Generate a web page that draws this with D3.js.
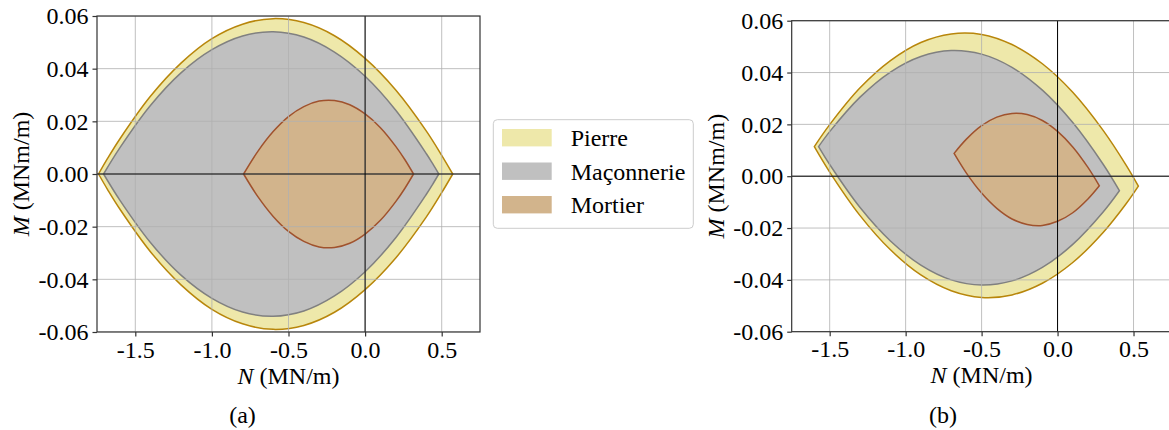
<!DOCTYPE html>
<html>
<head>
<meta charset="utf-8">
<script src="https://cdn.jsdelivr.net/npm/d3@7"></script>
<style>
  html, body { margin: 0; padding: 0; background: #fff; }
  svg { display: block; }
  svg text { font-family: "Liberation Serif", "Times New Roman", Times, serif; fill: #000; }
</style>
</head>
<body>
<svg id="chart" width="1169" height="430"></svg>
<script>
// ---------- tick values / labels ----------
const nTicks = [-1.5, -1.0, -0.5, 0.0, 0.5];
const nTickLabels = ["-1.5", "-1.0", "-0.5", "0.0", "0.5"];
const mTicks = [0.06, 0.04, 0.02, 0.00, -0.02, -0.04, -0.06];
const mTickLabels = ["0.06", "0.04", "0.02", "0.00", "-0.02", "-0.04", "-0.06"];
const nDomain = [-1.75, 0.75];
const mDomain = [-0.06, 0.06];

const seriesNames = ["Pierre", "Maçonnerie", "Mortier"];

// ---------- panel (a) ----------
const aPierreN   = [-1.74, -1.68, -1.6, -1.4, -1.2, -1.0, -0.8, -0.6, -0.4, -0.2, 0.0, 0.2, 0.4, 0.5, 0.572];
const aPierreTop = [0, 0.0060, 0.0134, 0.0296, 0.0422, 0.0514, 0.0569, 0.0590, 0.0575, 0.0525, 0.0439, 0.0319, 0.0163, 0.0071, 0];
const aPierreBot = [0, -0.0060, -0.0134, -0.0296, -0.0422, -0.0514, -0.0569, -0.0590, -0.0575, -0.0525, -0.0439, -0.0319, -0.0163, -0.0071, 0];

const aMaconN   = [-1.707, -1.6, -1.4, -1.2, -1.0, -0.8, -0.6, -0.4, -0.2, 0.0, 0.2, 0.4, 0.44, 0.481];
const aMaconTop = [0, 0.0100, 0.0261, 0.0385, 0.0472, 0.0524, 0.0540, 0.0520, 0.0463, 0.0371, 0.0242, 0.0077, 0.0040, 0];
const aMaconBot = [0, -0.0100, -0.0261, -0.0385, -0.0472, -0.0524, -0.0540, -0.0520, -0.0463, -0.0371, -0.0242, -0.0077, -0.0040, 0];

const aMortN   = [-0.793, -0.7, -0.6, -0.5, -0.4, -0.3, -0.2, -0.1, 0.0, 0.1, 0.2, 0.26, 0.316];
const aMortTop = [0, 0.0086, 0.0161, 0.0218, 0.0256, 0.0277, 0.0279, 0.0263, 0.0228, 0.0176, 0.0105, 0.0054, 0];
const aMortBot = [0, -0.0086, -0.0161, -0.0218, -0.0256, -0.0277, -0.0279, -0.0263, -0.0228, -0.0176, -0.0105, -0.0054, 0];

// ---------- panel (b) ----------
const bPierreN   = [-1.601, -1.5, -1.3, -1.1, -0.9, -0.7, -0.5, -0.3, -0.1, 0.1, 0.3, 0.45, 0.532];
const bPierreTop = [0.0114, 0.0199, 0.0341, 0.0446, 0.0516, 0.0549, 0.0547, 0.0508, 0.0434, 0.0324, 0.0177, 0.0044, -0.0038];
const bPierreBot = [0.0114, 0.0016, -0.0152, -0.0284, -0.0381, -0.0442, -0.0468, -0.0458, -0.0413, -0.0333, -0.0217, -0.0107, -0.0038];

const bMaconN   = [-1.573, -1.5, -1.3, -1.1, -0.9, -0.7, -0.5, -0.3, -0.1, 0.1, 0.3, 0.407];
const bMaconTop = [0.0114, 0.0172, 0.0305, 0.0402, 0.0462, 0.0485, 0.0471, 0.0420, 0.0332, 0.0207, 0.0046, -0.0056];
const bMaconBot = [0.0114, 0.0045, -0.0121, -0.0250, -0.0343, -0.0400, -0.0420, -0.0404, -0.0352, -0.0263, -0.0138, -0.0056];

const bMortN   = [-0.681, -0.6, -0.5, -0.4, -0.3, -0.2, -0.1, 0.0, 0.1, 0.2, 0.275];
const bMortTop = [0.0088, 0.0143, 0.0195, 0.0228, 0.0242, 0.0238, 0.0215, 0.0173, 0.0113, 0.0034, -0.0037];
const bMortBot = [0.0088, 0.0012, -0.0065, -0.0124, -0.0165, -0.0186, -0.0190, -0.0174, -0.0141, -0.0088, -0.0037];

// ---------- styles ----------
const fills   = ["#EEE8AA", "#C0C0C0", "#D2B48C"];
const strokes = ["#B8860B", "#808080", "#A0522D"];
const FONT = 24;
const FAMILY = '"Liberation Serif", "Times New Roman", Times, serif';

const svg = d3.select("#chart");

function zip(N, top, bot) { return N.map((n, i) => ({ n, t: top[i], b: bot[i] })); }

const panels = [
  { key: "a", x0: 97, x1: 480, y0: 16, y1: 332, caption: "(a)", capX: 242.5, ylabX: 28.5,
    shapes: [zip(aPierreN, aPierreTop, aPierreBot), zip(aMaconN, aMaconTop, aMaconBot), zip(aMortN, aMortTop, aMortBot)] },
  { key: "b", x0: 791.7, x1: 1171.5, y0: 20.7, y1: 331.7, caption: "(b)", capX: 943, ylabX: 723.5,
    shapes: [zip(bPierreN, bPierreTop, bPierreBot), zip(bMaconN, bMaconTop, bMaconBot), zip(bMortN, bMortTop, bMortBot)] }
];

panels.forEach(p => {
  const x = d3.scaleLinear().domain(nDomain).range([p.x0, p.x1]);
  const y = d3.scaleLinear().domain(mDomain).range([p.y1, p.y0]);
  const g = svg.append("g").attr("font-family", FAMILY);

  const clipId = "clip-" + p.key;
  svg.append("defs").append("clipPath").attr("id", clipId)
    .append("rect").attr("x", p.x0).attr("y", p.y0).attr("width", p.x1 - p.x0).attr("height", p.y1 - p.y0);

  const plot = g.append("g").attr("clip-path", `url(#${clipId})`);

  const area = d3.area()
    .x(d => x(d.n)).y0(d => y(d.b)).y1(d => y(d.t))
    .curve(d3.curveCatmullRom.alpha(0.5));
  p.shapes.forEach((s, i) => {
    plot.append("path").attr("d", area(s))
      .attr("fill", fills[i]).attr("stroke", strokes[i])
      .attr("stroke-width", 1.5).attr("stroke-linejoin", "miter");
  });

  const grid = plot.append("g").attr("stroke", "#b0b0b0").attr("stroke-width", 1).attr("stroke-opacity", 0.8);
  grid.selectAll("line.v").data(nTicks).join("line")
    .attr("x1", d => x(d)).attr("x2", d => x(d)).attr("y1", p.y0).attr("y2", p.y1);
  grid.selectAll("line.h").data(mTicks).join("line")
    .attr("x1", p.x0).attr("x2", p.x1).attr("y1", d => y(d)).attr("y2", d => y(d));

  plot.append("line").attr("x1", p.x0).attr("x2", p.x1).attr("y1", y(0)).attr("y2", y(0))
    .attr("stroke", "#000").attr("stroke-width", 1);
  plot.append("line").attr("x1", x(0)).attr("x2", x(0)).attr("y1", p.y0).attr("y2", p.y1)
    .attr("stroke", "#000").attr("stroke-width", 1);

  g.append("rect").attr("x", p.x0).attr("y", p.y0).attr("width", p.x1 - p.x0).attr("height", p.y1 - p.y0)
    .attr("fill", "none").attr("stroke", "#333").attr("stroke-width", 1.2);

  const xAxis = d3.axisBottom(x).tickValues(nTicks)
    .tickFormat((d, i) => nTickLabels[i]).tickSize(4.5).tickSizeOuter(0).tickPadding(4);
  const yAxis = d3.axisLeft(y).tickValues(mTicks)
    .tickFormat((d, i) => mTickLabels[i]).tickSize(4.5).tickSizeOuter(0).tickPadding(4);

  const gx = g.append("g").attr("transform", `translate(0,${p.y1})`).call(xAxis);
  const gy = g.append("g").attr("transform", `translate(${p.x0},0)`).call(yAxis);
  [gx, gy].forEach(a => {
    a.attr("font-family", FAMILY).attr("font-size", FONT);
    a.select(".domain").remove();
    a.selectAll("line").attr("stroke", "#333").attr("stroke-width", 1.2);
    a.selectAll("text").attr("fill", "#000");
  });

  const xl = g.append("text").attr("x", (p.x0 + p.x1) / 2).attr("y", p.y1 + 51.5)
    .attr("text-anchor", "middle").attr("font-size", FONT);
  xl.append("tspan").attr("font-style", "italic").text("N");
  xl.append("tspan").text(" (MN/m)");

  const yl = g.append("text")
    .attr("transform", `translate(${p.ylabX},${(p.y0 + p.y1) / 2}) rotate(-90)`)
    .attr("text-anchor", "middle").attr("font-size", FONT);
  yl.append("tspan").attr("font-style", "italic").text("M");
  yl.append("tspan").text(" (MNm/m)");

  g.append("text").attr("x", p.capX).attr("y", 423).attr("text-anchor", "middle")
    .attr("font-size", FONT).text(p.caption);
});

// ---------- legend ----------
const lg = svg.append("g").attr("font-family", FAMILY);
lg.append("rect").attr("x", 493.3).attr("y", 119.7).attr("width", 200).attr("height", 108.6)
  .attr("rx", 4).attr("fill", "#fff").attr("fill-opacity", 0.8)
  .attr("stroke", "#cccccc").attr("stroke-width", 1);
const rowY = d3.scalePoint().domain(seriesNames).range([137.7, 204.7]);
seriesNames.forEach((name, i) => {
  lg.append("rect").attr("x", 502).attr("y", rowY(name) - 8.7).attr("width", 49.7).attr("height", 17.4)
    .attr("fill", fills[i]);
  lg.append("text").attr("x", 570.7).attr("y", rowY(name) + 8.7).attr("font-size", FONT).text(name);
});
</script>
</body>
</html>
